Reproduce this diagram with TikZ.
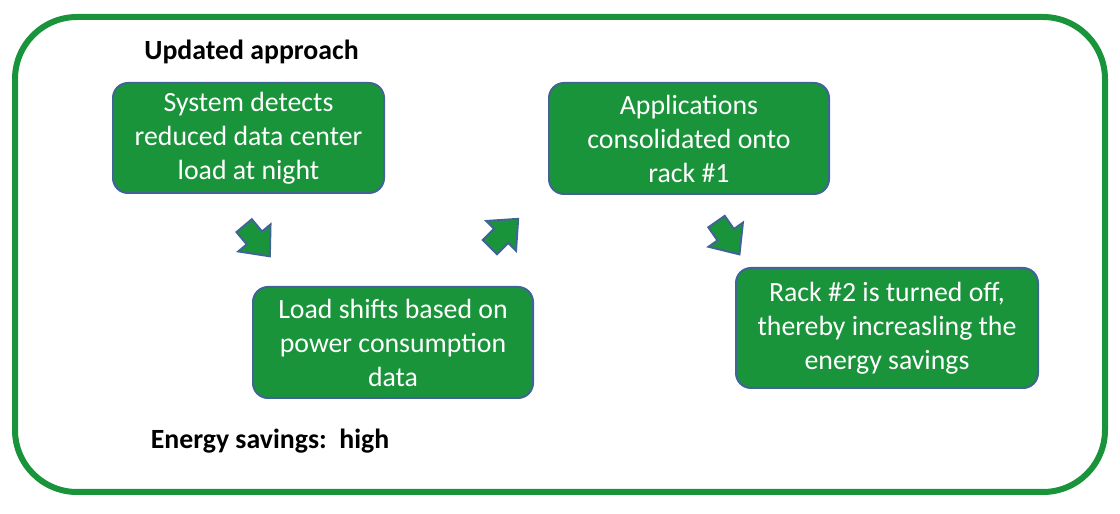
\documentclass[tikz,border=0pt]{standalone}
\usepackage{fontspec}
\setmainfont{Carlito}
\definecolor{boxgreen}{RGB}{26,148,58}
\definecolor{edgeblue}{RGB}{65,100,150}
\tikzset{
  x=1pt, y=1pt,
  frame/.style={draw=boxgreen, line width=6pt, rounded corners=62pt},
  stepbox/.style={draw=edgeblue, line width=2pt, fill=boxgreen, rounded corners=15pt,
    text=white, align=center, inner sep=0pt,
    font=\fontsize{27.8}{34}\selectfont},
  label/.style={font=\bfseries\fontsize{27.8}{32}\selectfont, text=black, inner sep=0pt},
  barrow/.pic={
    \filldraw[draw=edgeblue, line width=2pt, fill=boxgreen, line join=miter]
      (-20,-10) -- (-4,-10) -- (-4,-21) -- (20,0) -- (-4,21) -- (-4,10) -- (-20,10) -- cycle;
  }
}
\begin{document}
\begin{tikzpicture}
\useasboundingbox (0,0) rectangle (1120,514);
\draw[frame] (15,22) rectangle (1105,497);
\node[label] (title) at (251.5,462) {Updated approach};
\node[label] (energy) at (270,73) {Energy savings:\ \ high};
\node[stepbox, minimum width=271pt, minimum height=110pt] (s1) at (248.5,376)
  {System detects\\reduced data center\\load at night};
\node[stepbox, minimum width=280pt, minimum height=111pt] (s2) at (393,171.5)
  {Load shifts based on\\power consumption\\data};
\node[stepbox, minimum width=280pt, minimum height=111pt] (s3) at (689,375.5)
  {Applications\\consolidated onto\\rack \#1};
\node[stepbox, minimum width=302pt, minimum height=120pt] (s4) at (887,186)
  {Rack \#2 is turned off,\\thereby increasling the\\energy savings};
\pic[rotate=-50] (a1) at (257,273) {barrow};
\pic[rotate=45] (a2) at (504,281) {barrow};
\pic[rotate=-55] (a3) at (728,276) {barrow};
\end{tikzpicture}
\end{document}
